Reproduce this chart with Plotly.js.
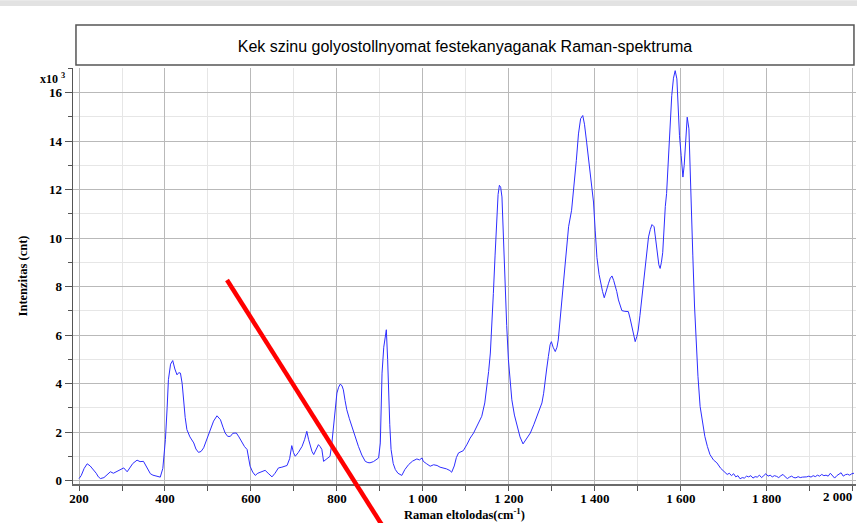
<!DOCTYPE html>
<html>
<head>
<meta charset="utf-8">
<script src="https://cdn.plot.ly/plotly-3.0.1.min.js"></script>
<style>html,body{margin:0;padding:0;background:#fff;}#chart{width:857px;height:523px;}</style>
</head>
<body>
<div id="chart"></div>
<script>
// Raman shift (cm^-1)
const ramanShift = [200,205,212,219,226,234,240,245,250,258,265,273,280,288,296,304,312,318,325,335,342,350,356,362,366,372,381,389,395,401,405,408,413,418,423,428,432,436,440,443,447,451,458,467,472,478,484,490,497,505,513,521,525,529,535,540,546,552,558,566,572,579,585,591,595,598,604,610,616,622,628,633,640,649,656,664,672,684,690,695,699,703,710,719,725,730,734,738,742,746,752,757,761,765,769,776,784,788,792,796,800,804,808,812,815,819,823,829,835,842,850,858,866,872,877,885,892,897,901,905,909,912,915,918,920,923,926,931,936,942,951,958,967,976,986,992,998,1001,1008,1017,1025,1033,1040,1048,1055,1063,1067,1073,1078,1083,1090,1094,1103,1110,1118,1127,1137,1144,1149,1153,1157,1161,1164,1168,1171,1175,1178,1181,1184,1187,1191,1195,1199,1203,1207,1213,1219,1226,1233,1240,1246,1250,1258,1265,1271,1277,1281,1284,1288,1292,1296,1299,1303,1308,1312,1315,1320,1327,1333,1339,1346,1352,1357,1362,1367,1372,1376,1381,1385,1389,1393,1397,1401,1405,1410,1414,1418,1422,1427,1432,1436,1440,1444,1447,1451,1455,1459,1463,1470,1478,1482,1486,1490,1494,1498,1501,1505,1509,1513,1517,1521,1525,1529,1533,1538,1542,1546,1549,1552,1555,1558,1561,1564,1567,1571,1575,1579,1583,1587,1591,1594,1597,1601,1605,1608,1610,1613,1615,1619,1622,1625,1628,1632,1636,1640,1645,1650,1656,1662,1668,1676,1684,1693,1703,1708,1713,1718,1723,1728,1733,1738,1743,1748,1753,1758,1763,1768,1773,1778,1783,1788,1793,1798,1803,1808,1813,1818,1823,1828,1833,1838,1843,1848,1853,1858,1863,1868,1873,1878,1883,1888,1893,1898,1903,1908,1913,1918,1923,1928,1933,1938,1943,1948,1953,1958,1963,1968,1973,1978,1983,1988,1993,1998,2003];
// Intensity (x10^3 cnt)
const intensity = [0.08,0.2,0.5,0.69,0.6,0.45,0.3,0.15,0.08,0.12,0.25,0.36,0.3,0.38,0.45,0.52,0.36,0.5,0.7,0.84,0.78,0.79,0.6,0.4,0.28,0.22,0.18,0.14,0.5,1.69,3.0,4.16,4.8,4.95,4.6,4.36,4.45,4.43,4.0,3.33,2.6,2.1,1.8,1.55,1.3,1.16,1.2,1.35,1.7,2.1,2.45,2.67,2.6,2.51,2.2,1.96,1.82,1.82,1.95,1.96,1.8,1.55,1.4,1.28,0.9,0.59,0.35,0.21,0.3,0.34,0.4,0.42,0.3,0.15,0.3,0.52,0.55,0.62,0.9,1.44,1.15,1.0,1.15,1.41,1.7,2.03,1.7,1.41,1.2,1.07,1.3,1.48,1.4,1.28,0.79,0.9,1.0,1.5,2.23,3.0,3.61,3.85,3.98,3.9,3.74,3.3,2.92,2.55,2.23,1.8,1.41,1.05,0.79,0.74,0.73,0.78,0.85,0.93,1.55,4.43,5.5,5.95,6.22,5.0,3.74,2.3,1.28,0.7,0.45,0.3,0.21,0.45,0.66,0.8,0.89,0.85,0.93,0.79,0.7,0.59,0.65,0.62,0.55,0.52,0.48,0.41,0.34,0.6,0.95,1.14,1.2,1.23,1.5,1.75,1.96,2.3,2.65,3.2,3.88,4.5,5.26,6.5,7.72,9.3,10.47,11.8,12.18,12.1,11.7,10.2,8.0,6.4,4.98,4.1,3.33,2.7,2.23,1.8,1.51,1.7,1.85,1.96,2.3,2.65,2.9,3.2,3.6,4.16,4.6,5.12,5.6,5.73,5.5,5.32,5.5,5.8,6.8,8.0,9.3,10.47,11.15,12.2,13.2,14.3,14.93,15.06,14.7,13.96,13.4,12.8,12.1,11.49,10.3,9.2,8.5,8.1,7.8,7.54,7.9,8.14,8.35,8.44,8.25,8.07,7.8,7.45,7.2,7.01,6.98,6.97,6.7,6.35,6.0,5.73,5.95,6.21,6.8,7.45,8.1,8.82,9.5,10.05,10.35,10.56,10.47,9.9,9.37,8.9,8.75,9.0,9.4,10.5,11.3,11.84,13.2,14.6,15.88,16.6,16.91,16.57,15.4,14.24,13.4,12.52,13.0,13.69,14.6,14.99,14.51,12.5,10.8,9.3,7.2,5.67,4.3,3.06,2.4,1.82,1.4,1.07,0.85,0.73,0.5,0.32,0.25,0.3,0.2,0.28,0.15,0.2,0.07,0.12,0.1,0.18,0.15,0.2,0.1,0.16,0.14,0.22,0.12,0.2,0.28,0.18,0.22,0.15,0.2,0.17,0.12,0.2,0.25,0.15,0.08,0.14,0.18,0.12,0.11,0.16,0.12,0.14,0.13,0.15,0.18,0.14,0.2,0.16,0.22,0.18,0.25,0.2,0.22,0.18,0.3,0.22,0.1,0.2,0.25,0.32,0.18,0.24,0.26,0.22,0.28,0.3];

const xTickVals = [200,400,600,800,1000,1200,1400,1600,1800,2000];
const xTickText = ['200','400','600','800','1 000','1 200','1 400','1 600','1 800','2 000'];
const yTickVals = [0,2,4,6,8,10,12,14,16];
const yTickText = ['0','2','4','6','8','10','12','14','16'];

const chartTitle = 'Kek szinu golyostollnyomat festekanyaganak Raman-spektruma';
const xTitle = 'Raman eltolodas(cm<sup>-1</sup>)';
const yTitle = 'Intenzitas (cnt)';
const yUnit = 'x10 <sup>3</sup>';

const serifBold = {family: 'Liberation Serif, Times New Roman, serif', size: 13, color: '#000', weight: 'bold'};
const titleFontB = {family: 'Liberation Serif, Times New Roman, serif', size: 12.5, color: '#000', weight: 'bold'};

// last x tick label is drawn right-aligned inside the figure (as in the reference)
const lastIdx = xTickText.length - 1;
const xTickTextShown = xTickText.map((t, i) => i === lastIdx ? '' : t);

const trace = {
  x: ramanShift, y: intensity, type: 'scatter', mode: 'lines',
  line: {color: 'rgb(45,45,255)', width: 1}, hoverinfo: 'x+y', showlegend: false
};

const layout = {
  width: 857, height: 523,
  margin: {l: 73, r: 1, t: 68, b: 39},
  paper_bgcolor: '#ffffff', plot_bgcolor: '#ffffff',
  title: {
    text: chartTitle, font: {family: 'Liberation Sans, Arial, sans-serif', size: 16, color: '#000'},
    xref: 'paper', x: 0.5006, xanchor: 'center', yref: 'container', y: 0.912, yanchor: 'middle'
  },
  xaxis: {
    range: [186, 2007.7], tickmode: 'array', tickvals: xTickVals, ticktext: xTickTextShown,
    ticks: 'outside', ticklen: 5, tickcolor: '#555', tickwidth: 1, ticklabelstandoff: -4,
    showline: true, linecolor: '#6a6a6a', linewidth: 2,
    showgrid: true, gridcolor: '#b9b9b9', gridwidth: 1, zeroline: false,
    minor: {dtick: 100, tick0: 100, showgrid: true, gridcolor: '#e6e6e6', gridwidth: 1, ticks: 'outside', ticklen: 5, tickcolor: '#555'},
    tickfont: serifBold,
    title: {text: xTitle, font: titleFontB, standoff: 1}
  },
  yaxis: {
    range: [-0.144, 17.02], tickmode: 'array', tickvals: yTickVals, ticktext: yTickText,
    ticks: 'outside', ticklen: 7, tickcolor: '#555', tickwidth: 1,
    showline: true, linecolor: '#555', linewidth: 1.5,
    showgrid: true, gridcolor: '#b9b9b9', gridwidth: 1, zeroline: false,
    minor: {dtick: 1, tick0: 1, showgrid: true, gridcolor: '#e6e6e6', gridwidth: 1, ticks: 'outside', ticklen: 4, tickcolor: '#555'},
    tickfont: serifBold,
    title: {text: yTitle, font: titleFontB, standoff: 18}
  },
  annotations: [
    {text: yUnit, xref: 'paper', yref: 'paper', x: -0.0268, y: 0.953, xanchor: 'center', yanchor: 'bottom', showarrow: false, font: {family: 'Liberation Serif, Times New Roman, serif', size: 12, color: '#000', weight: 'bold'}},
    {text: xTickText[lastIdx], xref: 'x', yref: 'paper', x: xTickVals[lastIdx] + 3, y: -0.031, xanchor: 'right', yanchor: 'middle', showarrow: false, font: serifBold}
  ],
  shapes: [
    {type: 'rect', xref: 'paper', yref: 'paper', x0: -0.0932, x1: 1.0013, y0: 1.149, y1: 1.163, line: {width: 0}, fillcolor: '#e2e2e2', layer: 'below'},
    {type: 'rect', xref: 'paper', yref: 'paper', x0: 0.0038, x1: 0.9974, y0: 1.0072, y1: 1.1034, line: {color: '#555', width: 1.5}, fillcolor: 'rgba(0,0,0,0)'},
    {type: 'line', xref: 'paper', yref: 'paper', x0: 0.1967, y0: 0.4904, x1: 0.3946, y1: -0.0986, line: {color: '#ff0000', width: 4.5}, layer: 'above'}
  ]
};

Plotly.newPlot('chart', [trace], layout, {displayModeBar: false, staticPlot: true});
</script>
</body>
</html>
